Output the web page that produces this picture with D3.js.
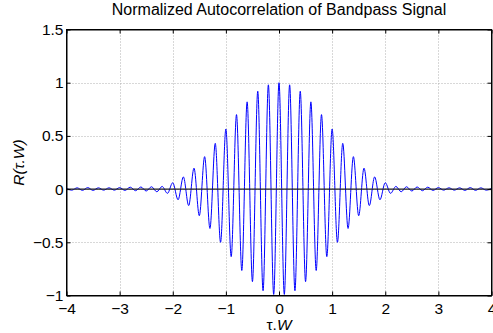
<!DOCTYPE html>
<html>
<head>
<meta charset="utf-8">
<script src="https://cdn.jsdelivr.net/npm/d3@7"></script>
<style>
  body { margin: 0; background: #fff; }
  text { font-family: "Liberation Sans", Arial, Helvetica, sans-serif; }
</style>
</head>
<body>
<script>
// extrema of the curve (tau.W, R)
const tauW = [
  -4.0, -3.9, -3.8, -3.7, -3.6, -3.5, -3.4, -3.3, -3.2, -3.1,
  -3.0, -2.9, -2.8, -2.7, -2.6, -2.5, -2.4, -2.3, -2.2, -2.1,
  -2.0, -1.9, -1.8, -1.7, -1.6, -1.5, -1.4, -1.3, -1.2, -1.1,
  -1.0, -0.9, -0.8, -0.7, -0.6, -0.5, -0.4, -0.3, -0.2, -0.1,
  0.0,
  0.1, 0.2, 0.3, 0.4, 0.5, 0.6, 0.7, 0.8, 0.9, 1.0,
  1.1, 1.2, 1.3, 1.4, 1.5, 1.6, 1.7, 1.8, 1.9, 2.0,
  2.1, 2.2, 2.3, 2.4, 2.5, 2.6, 2.7, 2.8, 2.9, 3.0,
  3.1, 3.2, 3.3, 3.4, 3.5, 3.6, 3.7, 3.8, 3.9, 4.0
];
const R = [
  0.008, -0.01, 0.012, -0.012, 0.014, -0.012, 0.012, -0.01, 0.012, -0.01,
  0.014, -0.012, 0.018, -0.015, 0.02, -0.018, 0.022, -0.025, 0.025, -0.04,
  0.06, -0.10, 0.115, -0.155, 0.197, -0.25, 0.305, -0.37, 0.43, -0.50,
  0.565, -0.635, 0.70, -0.765, 0.82, -0.87, 0.92, -0.955, 0.98, -0.99,
  1.0,
  -0.99, 0.98, -0.955, 0.92, -0.87, 0.82, -0.765, 0.70, -0.635, 0.565,
  -0.50, 0.43, -0.37, 0.305, -0.25, 0.197, -0.155, 0.115, -0.10, 0.06,
  -0.04, 0.025, -0.025, 0.022, -0.018, 0.02, -0.015, 0.018, -0.012, 0.014,
  -0.01, 0.012, -0.01, 0.012, -0.012, 0.014, -0.012, 0.012, -0.01, 0.008
];
const xTicks = [-4, -3, -2, -1, 0, 1, 2, 3, 4];
const yTicks = [-1, -0.5, 0, 0.5, 1, 1.5];

const data = tauW.map((t, i) => ({ t: t, r: R[i] }));

const width = 493, height = 333;
const mLeft = 66.5, mRight = 491.5, mTop = 29.5, mBottom = 295.5;

const svg = d3.select("body").append("svg")
    .attr("width", width)
    .attr("height", height);

const x = d3.scaleLinear().domain([-4, 4]).range([mLeft, mRight]);
const y = d3.scaleLinear().domain([-1, 1.5]).range([mBottom, mTop]);

// grid
svg.append("g")
    .selectAll("line")
    .data(xTicks.slice(1, -1))
    .join("line")
    .attr("x1", d => Math.round(x(d)) + 0.5).attr("x2", d => Math.round(x(d)) + 0.5)
    .attr("y1", mTop).attr("y2", mBottom)
    .attr("stroke", "#b0b0b0")
    .attr("stroke-dasharray", "1,2");

svg.append("g")
    .selectAll("line")
    .data(yTicks.slice(1, -1))
    .join("line")
    .attr("x1", mLeft).attr("x2", mRight)
    .attr("y1", d => Math.round(y(d)) + 0.5).attr("y2", d => Math.round(y(d)) + 0.5)
    .attr("stroke", "#b0b0b0")
    .attr("stroke-dasharray", "1,2");

// the curve
svg.append("clipPath").attr("id", "clip")
    .append("rect")
    .attr("x", mLeft).attr("y", mTop)
    .attr("width", mRight - mLeft).attr("height", mBottom - mTop);

const line = d3.line()
    .x(d => x(d.t))
    .y(d => y(d.r))
    .curve(d3.curveMonotoneX);

svg.append("path")
    .datum(data)
    .attr("clip-path", "url(#clip)")
    .attr("fill", "none")
    .attr("stroke", "#0000ff")
    .attr("stroke-width", 1)
    .attr("d", line);

// zero line
svg.append("line")
    .attr("x1", mLeft).attr("x2", mRight)
    .attr("y1", y(0)).attr("y2", y(0))
    .attr("stroke", "#222")
    .attr("stroke-width", 1.2);

// axes: bottom / left with labels, top / right ticks only (inward)
const tk = 4;
const fmt = d3.format("~g");
svg.append("g")
    .attr("transform", `translate(0,${mBottom})`)
    .call(d3.axisBottom(x).tickValues(xTicks).tickFormat(fmt).tickSizeInner(-tk).tickSizeOuter(0).tickPadding(7))
    .call(g => g.selectAll("text").attr("font-size", 15.5).attr("fill", "#000"));

svg.append("g")
    .attr("transform", `translate(0,${mTop})`)
    .call(d3.axisTop(x).tickValues(xTicks).tickSizeInner(-tk).tickSizeOuter(0).tickFormat(""));

svg.append("g")
    .attr("transform", `translate(${mLeft},0)`)
    .call(d3.axisLeft(y).tickValues(yTicks).tickFormat(fmt).tickSizeInner(-tk).tickSizeOuter(0).tickPadding(3))
    .call(g => g.selectAll("text").attr("font-size", 15.5).attr("fill", "#000"));

svg.append("g")
    .attr("transform", `translate(${mRight},0)`)
    .call(d3.axisRight(y).tickValues(yTicks).tickSizeInner(-tk).tickSizeOuter(0).tickFormat(""));

svg.selectAll(".domain").attr("stroke", "#000");
svg.selectAll(".tick line").attr("stroke", "#000");

// box
svg.append("rect")
    .attr("x", mLeft).attr("y", mTop)
    .attr("width", mRight - mLeft).attr("height", mBottom - mTop)
    .attr("fill", "none")
    .attr("stroke", "#000");

// title and labels
svg.append("text")
    .attr("x", (mLeft + mRight) / 2)
    .attr("y", 15)
    .attr("text-anchor", "middle")
    .attr("font-size", 16)
    .text("Normalized Autocorrelation of Bandpass Signal");

svg.append("text")
    .attr("x", (mLeft + mRight) / 2)
    .attr("y", 329.5)
    .attr("text-anchor", "middle")
    .attr("font-size", 15.5)
    .html('τ.<tspan font-style="italic">W</tspan>');

svg.append("text")
    .attr("transform", `translate(24,${(mTop + mBottom) / 2}) rotate(-90)`)
    .attr("text-anchor", "middle")
    .attr("font-size", 15.5)
    .attr("font-style", "italic")
    .text("R(τ.W)");
</script>
</body>
</html>
